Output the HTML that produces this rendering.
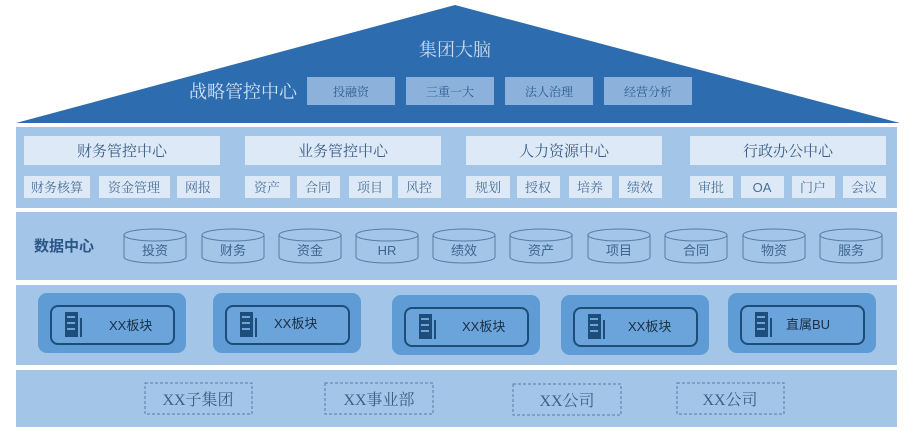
<!DOCTYPE html>
<html><head><meta charset="utf-8"><style>
html,body{margin:0;padding:0;background:#fff;}
svg{display:block}
text{font-family:"Liberation Serif","Noto Serif CJK SC",serif;}
.s{font-family:"Liberation Sans","Noto Sans CJK SC",sans-serif;}
</style></head><body>
<svg width="916" height="437" viewBox="0 0 916 437" xmlns="http://www.w3.org/2000/svg">
<polygon points="16,123 455,5 900,123" fill="#2e6cb0"/>
<text x="455" y="56" font-size="18" fill="#c9dcf0" text-anchor="middle">集团大脑</text>
<text x="243" y="98" font-size="18" fill="#cfe0f2" text-anchor="middle">战略管控中心</text>
<g fill="#8cb2dc">
<rect x="307" y="77" width="88" height="28"/><rect x="406" y="77" width="88" height="28"/>
<rect x="505" y="77" width="88" height="28"/><rect x="604" y="77" width="88" height="28"/>
</g>
<g font-size="12" fill="#2e5c8f" text-anchor="middle">
<text x="351" y="96">投融资</text><text x="450" y="96">三重一大</text><text x="549" y="96">法人治理</text><text x="648" y="96">经营分析</text>
</g>
<g fill="#a3c5e7">
<rect x="16" y="127" width="881" height="81"/>
<rect x="16" y="212" width="881" height="68"/>
<rect x="16" y="285" width="881" height="80"/>
<rect x="16" y="370" width="881" height="57"/>
</g>
<g fill="#dde9f6">
<rect x="24" y="136" width="196" height="29"/><rect x="245" y="136" width="196" height="29"/>
<rect x="466" y="136" width="196" height="29"/><rect x="690" y="136" width="196" height="29"/>
<rect x="24" y="176" width="66" height="22"/><rect x="99" y="176" width="71" height="22"/><rect x="177" y="176" width="43" height="22"/>
<rect x="245" y="176" width="45" height="22"/><rect x="297" y="176" width="43" height="22"/><rect x="349" y="176" width="43" height="22"/><rect x="398" y="176" width="43" height="22"/>
<rect x="466" y="176" width="44" height="22"/><rect x="517" y="176" width="43" height="22"/><rect x="569" y="176" width="43" height="22"/><rect x="619" y="176" width="43" height="22"/>
<rect x="690" y="176" width="43" height="22"/><rect x="741" y="176" width="43" height="22"/><rect x="792" y="176" width="43" height="22"/><rect x="843" y="176" width="43" height="22"/>
</g>
<g font-size="15" fill="#3a5f88" text-anchor="middle">
<text x="122" y="156">财务管控中心</text><text x="343" y="156">业务管控中心</text><text x="564" y="156">人力资源中心</text><text x="788" y="156">行政办公中心</text>
</g>
<g font-size="13" fill="#4a6f98" text-anchor="middle">
<text x="57" y="192">财务核算</text><text x="134" y="192">资金管理</text><text x="198" y="192">网报</text>
<text x="267" y="192">资产</text><text x="318" y="192">合同</text><text x="370" y="192">项目</text><text x="419" y="192">风控</text>
<text x="488" y="192">规划</text><text x="538" y="192">授权</text><text x="590" y="192">培养</text><text x="640" y="192">绩效</text>
<text x="711" y="192">审批</text><text x="762" y="192" class="s">OA</text><text x="813" y="192">门户</text><text x="864" y="192">会议</text>
</g>
<text x="64" y="251" font-size="15" font-weight="bold" fill="#2c5687" text-anchor="middle" class="s">数据中心</text>
<g fill="none" stroke="#557ca6" stroke-width="1">
<g id="cy"><path d="M124,235 v22 a31,6 0 0 0 62,0 v-22"/><ellipse cx="155" cy="235" rx="31" ry="6"/></g>
<use href="#cy" x="78"/><use href="#cy" x="155"/><use href="#cy" x="232"/><use href="#cy" x="309"/>
<use href="#cy" x="386"/><use href="#cy" x="464"/><use href="#cy" x="541"/><use href="#cy" x="619"/><use href="#cy" x="696"/>
</g>
<g font-size="13" fill="#3c6590" text-anchor="middle" class="s">
<text x="155" y="255" class="s">投资</text><text x="233" y="255" class="s">财务</text><text x="310" y="255" class="s">资金</text><text x="387" y="255" class="s">HR</text><text x="464" y="255" class="s">绩效</text>
<text x="541" y="255" class="s">资产</text><text x="619" y="255" class="s">项目</text><text x="696" y="255" class="s">合同</text><text x="774" y="255" class="s">物资</text><text x="851" y="255" class="s">服务</text>
</g>
<g id="bk">
<rect x="38" y="293" width="148" height="60" rx="9" fill="#5f9bd4"/>
<rect x="51" y="306" width="123" height="38" rx="7" fill="#6aa4da" stroke="#1f4d7a" stroke-width="2"/>
<rect x="65" y="312" width="13" height="25" fill="#1f4d7a"/>
<rect x="80" y="318" width="2" height="19" fill="#1f4d7a"/>
<rect x="67" y="316" width="8" height="2" fill="#6aa4da"/><rect x="67" y="322" width="8" height="2" fill="#6aa4da"/><rect x="67" y="328" width="8" height="2" fill="#6aa4da"/>
</g>
<use href="#bk" x="175"/><use href="#bk" x="354" y="2"/><use href="#bk" x="523" y="2"/><use href="#bk" x="690"/>
<g font-size="13" fill="#1a2e45" class="s">
<text x="109" y="330" class="s">XX板块</text><text x="274" y="328" class="s">XX板块</text><text x="462" y="331" class="s">XX板块</text><text x="628" y="331" class="s">XX板块</text><text x="786" y="329" class="s">直属BU</text>
</g>
<g fill="none" stroke="#557ca6" stroke-dasharray="3,2">
<rect x="145" y="383" width="107" height="31"/><rect x="325" y="383" width="108" height="31"/>
<rect x="513" y="384" width="108" height="31"/><rect x="677" y="383" width="107" height="31"/>
</g>
<g font-size="16" fill="#3c5f88" text-anchor="middle">
<text x="198" y="405">XX子集团</text><text x="379" y="405">XX事业部</text><text x="567" y="406">XX公司</text><text x="730" y="405">XX公司</text>
</g>
</svg>
</body></html>
